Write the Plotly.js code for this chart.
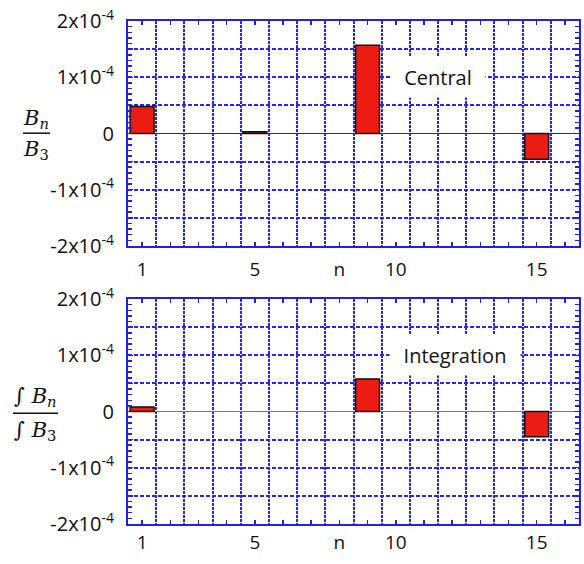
<!DOCTYPE html>
<html>
<head>
<meta charset="utf-8">
<script src="https://cdn.plot.ly/plotly-3.0.1.min.js"></script>
<style>body{margin:0;background:#fff}</style>
</head>
<body>
<div id="plot" style="width:584px;height:564px"></div>
<script>
// harmonic orders and normalised coefficients
var nCentral = [1, 5, 9, 15];
var central = [0.48e-4, 0.03e-4, 1.57e-4, -0.46e-4];
var nInteg = [1, 9, 15];
var integration = [0.08e-4, 0.58e-4, -0.45e-4];

var xTicks = [1, 2, 3, 4, 5, 6, 7, 8, 9, 10, 11, 12, 13, 14, 15, 16];
var xLabels = ['1', '', '', '', '5', '', '', 'n', '', '10', '', '', '', '', '15', ''];
var yTicks = [-2e-4, -1.5e-4, -1e-4, -0.5e-4, 0, 0.5e-4, 1e-4, 1.5e-4, 2e-4];
var yLabels = ['-2x10<sup>-4</sup>', '', '-1x10<sup>-4</sup>', '', '0', '', '1x10<sup>-4</sup>', '', '2x10<sup>-4</sup>'];

var blue = '#2222dd';
var gridBlue = 'rgb(40,40,235)';
var barStyle = {color: '#ec1c12', line: {color: '#111', width: 1.5}};

var trace1 = {
  x: nCentral, y: central, type: 'bar', width: 0.85,
  marker: barStyle, xaxis: 'x', yaxis: 'y', hoverinfo: 'x+y'
};
var trace2 = {
  x: nInteg, y: integration, type: 'bar', width: 0.85,
  marker: barStyle, xaxis: 'x2', yaxis: 'y2', hoverinfo: 'x+y'
};

function xAxis(anchor, standoff) {
  return {
    anchor: anchor, range: [0.5, 16.5],
    tickmode: 'array', tickvals: xTicks, ticktext: xLabels,
    ticks: 'inside', ticklen: 4, tickcolor: blue, tickwidth: 1.5,
    showgrid: false, zeroline: false,
    showline: true, linecolor: blue, linewidth: 2, mirror: 'allticks',
    ticklabelstandoff: standoff,
    tickfont: {family: 'Open Sans', size: 19, color: '#111'},
    minor: {tickmode: 'linear', tick0: 0.5, dtick: 1, ticks: '', showgrid: true,
            gridcolor: gridBlue, gridwidth: 2, griddash: '3px,1px'}
  };
}
function yAxis(anchor, domain, zc) {
  return {
    anchor: anchor, domain: domain, range: [-2e-4, 2e-4],
    tickmode: 'array', tickvals: yTicks, ticktext: yLabels,
    ticks: 'inside', ticklen: 5, tickcolor: blue, tickwidth: 1.5,
    showgrid: true, gridcolor: gridBlue, gridwidth: 2, griddash: '4px,2px',
    zeroline: true, zerolinecolor: zc, zerolinewidth: 1.5,
    showline: true, linecolor: blue, linewidth: 2, mirror: 'allticks',
    ticklabelstandoff: 8,
    tickfont: {family: 'Open Sans', size: 20, color: '#111'},
    minor: {dtick: 0.1e-4, ticks: 'inside', ticklen: 4, tickcolor: blue, tickwidth: 1.5, showgrid: false}
  };
}

var mathFont = {family: 'DejaVu Serif', size: 21, color: '#111'};
function mathNote(text, x, y) {
  return {text: text, x: x, y: y, xref: 'paper', yref: 'paper', xanchor: 'center',
          yanchor: 'middle', showarrow: false, font: mathFont};
}

var layout = {
  width: 584, height: 564,
  margin: {l: 128, r: 5, t: 21, b: 40},
  paper_bgcolor: '#fff', plot_bgcolor: '#fff',
  showlegend: false, bargap: 0,
  xaxis: xAxis('y', 5),
  yaxis: yAxis('x', [0.5527, 1], '#333'),
  xaxis2: xAxis('y2', 0),
  yaxis2: yAxis('x2', [0, 0.4473], '#777'),
  annotations: [
    {text: 'Central', x: 11.5, y: 1e-4, xref: 'x', yref: 'y', showarrow: false,
     bgcolor: '#fff', width: 82, height: 28, borderpad: 6,
     font: {family: 'Open Sans', size: 20, color: '#111'}},
    {text: 'Integration', x: 12.1, y: 1e-4, xref: 'x2', yref: 'y2', showarrow: false,
     bgcolor: '#fff', width: 118, height: 28, borderpad: 6,
     font: {family: 'Open Sans', size: 20, color: '#111'}},
    mathNote('<i>B</i><sub><i>n</i></sub>', -0.204, 0.805),
    mathNote('<i>B</i><sub>3</sub>', -0.204, 0.744),
    mathNote('∫ <i>B</i><sub><i>n</i></sub>', -0.206, 0.253),
    mathNote('∫ <i>B</i><sub>3</sub>', -0.206, 0.185)
  ],
  shapes: [
    {type: 'line', xref: 'paper', yref: 'paper', x0: -0.233, x1: -0.173, y0: 0.777, y1: 0.777,
     line: {color: '#111', width: 1.5}},
    {type: 'line', xref: 'paper', yref: 'paper', x0: -0.255, x1: -0.155, y0: 0.220, y1: 0.220,
     line: {color: '#111', width: 1.5}}
  ]
};

Plotly.newPlot('plot', [trace1, trace2], layout, {displayModeBar: false, staticPlot: true});
</script>
</body>
</html>
